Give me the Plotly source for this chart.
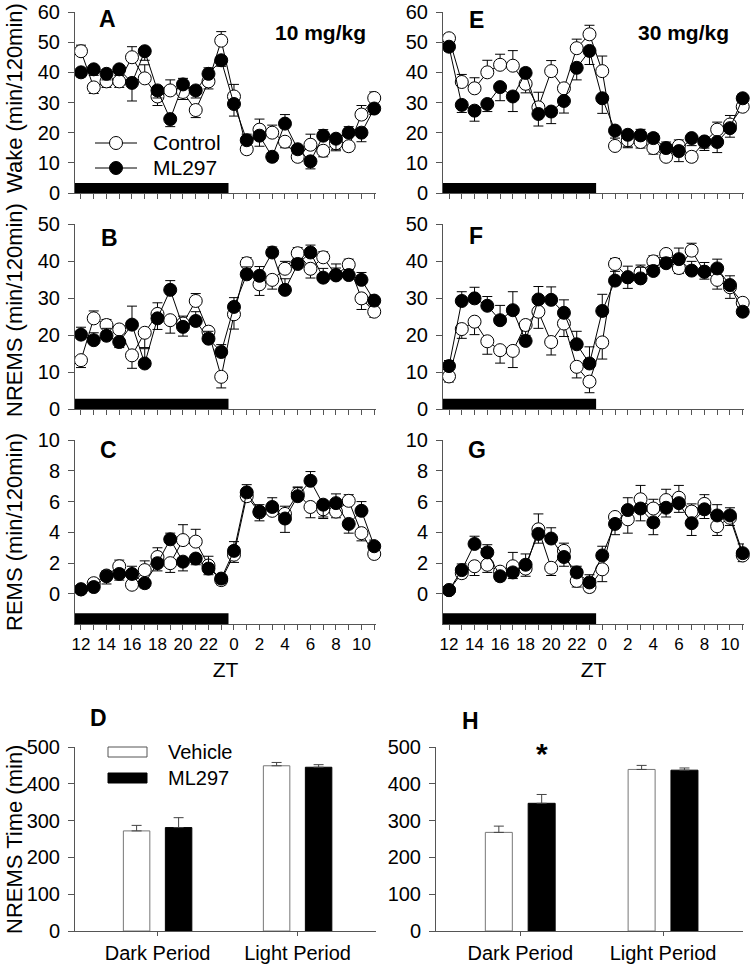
import plotly.graph_objects as go

# ---------------- data ----------------
zt_hours = [12, 13, 14, 15, 16, 17, 18, 19, 20, 21, 22, 23, 0, 1, 2, 3, 4, 5, 6, 7, 8, 9, 10, 11]
tick_text = [str(h) if h % 2 == 0 else "" for h in zt_hours]

# 10 mg/kg ---- Wake
wake10_ctrl = [47, 35, 37, 37, 45, 38, 32, 34, 33.5, 27.5, 37, 50.5, 32, 14.5, 21, 20, 17, 12, 16, 14, 16.5, 15.5, 26, 31.5]
wake10_ctrl_err = [2, -2, -2, -2, 3.5, 4.5, -3, 3.5, -2.5, -2.5, -2.5, 3, 4, -1.5, 3.5, 2.5, -2, -1.5, 3.5, -2, -2, -1.5, 3, 2]
wake10_ml = [40, 41, 39.5, 41, 36.5, 47, 34, 24.5, 36, 34, 39.5, 44, 29.5, 17.5, 19, 12, 23, 14.5, 10.5, 19, 18, 20, 20, 28]
wake10_ml_err = [-1.5, -2, -2, -2, -6, -3, -2.5, -2.5, 2, -2.5, 2, -2, -4, 2, -3.5, -1.5, 3, -1.5, -2.5, 2, -4, 2, -3, -2]
# 10 mg/kg ---- NREMS
nrem10_ctrl = [13.2, 24.5, 22.7, 21.5, 14.5, 20.6, 25.7, 24, 23.1, 29.2, 20.9, 8.7, 25.6, 39.4, 33.7, 34.9, 37.9, 42.1, 37.9, 41, 36.1, 39, 29.9, 26.3]
nrem10_ctrl_err = [-2, 2, 1.5, 1, -3.5, -4, 3, -3.5, 2, 2, -2, -3, -4, 1.5, -3, -2.5, 2, 1.5, -2.5, 1.5, 2, 1.5, -3, -1.5]
nrem10_ml = [20.1, 18.6, 19.8, 18.1, 22.8, 12.3, 24.5, 32.2, 22.2, 23.8, 19, 15.4, 27.6, 36.4, 36, 42.3, 32.2, 39.2, 42.3, 35.5, 36.2, 36.2, 34.9, 29.3]
nrem10_ml_err = [2, 2, 2, -1.5, 5, 4, -3, 2.5, -2.5, 2.5, 2, 2, 2.5, 2, 2.5, 1.5, 3, 1.5, 2, 2.5, 3, 1.5, 2, 1.5]
# 10 mg/kg ---- REMS
rem10_ctrl = [0.3, 0.7, 1.2, 1.8, 0.6, 1.55, 2.4, 2.0, 3.5, 3.4, 1.85, 0.9, 2.55, 6.35, 5.3, 5.4, 5.2, 6.5, 5.65, 5.5, 5.35, 6.05, 3.95, 2.6]
rem10_ctrl_err = [0.2, 0.3, 0.3, 0.4, -0.3, 0.6, 0.6, -0.6, 1.0, 0.8, -0.6, -0.3, -0.5, -0.3, 0.5, 0.5, 0.5, 0.4, -0.7, -0.6, -0.4, 0.4, -0.5, -0.3]
rem10_ml = [0.3, 0.45, 1.15, 1.3, 1.3, 0.7, 2.0, 3.55, 2.1, 2.3, 1.65, 1.0, 2.8, 6.6, 5.35, 5.65, 4.9, 6.35, 7.35, 5.8, 5.9, 4.55, 5.4, 3.1]
rem10_ml_err = [0.2, 0.3, -0.5, -0.4, 0.5, -0.3, -0.5, 0.4, -0.6, -0.4, 0.8, -0.3, 0.6, 0.5, -0.6, 0.6, -0.9, 0.6, 0.6, -0.8, 0.6, -0.6, 0.6, 0.4]

# 30 mg/kg ---- Wake
wake30_ctrl = [51.3, 36.8, 34.7, 40, 42.5, 42.2, 36.2, 28.4, 40.4, 34.7, 48, 52.6, 40.4, 15.6, 17.5, 16.9, 14.9, 12, 15.6, 12, 16.9, 21, 22.7, 28.6]
wake30_ctrl_err = [1.5, 2.5, 3.5, 4, 3.5, 5, -3, 5, 3.5, -4, 3, 3, 5, -1.5, -2.5, -2, -2, -1.5, 2, -1.5, -2, 2.5, 3, -1.5]
wake30_ml = [48.5, 29.2, 27.3, 29.5, 35.1, 32, 39.8, 26.2, 27, 30.5, 41.5, 47.1, 31.4, 20.7, 19.3, 19.1, 18.2, 14.9, 13.9, 18.2, 17.1, 16.9, 21.5, 31.4]
wake30_ml_err = [-1.5, -2.5, -3.5, -2.5, -4.5, -5, 1.5, -4, -4, -4, -4, -4.5, -5, -2.5, -4, 2, 1.5, 2, -3.5, -2.5, -3, -3.5, -3, 1.5]
# 30 mg/kg ---- NREMS
nrem30_ctrl = [8.8, 21.6, 23.6, 18.3, 15.9, 15.7, 22.7, 26.3, 18.1, 23.1, 11.4, 7.4, 18, 39.2, 35.6, 36.9, 39.9, 41.9, 38.1, 42.8, 37.1, 34.9, 32.9, 28.7]
nrem30_ctrl_err = [-1.5, -2.5, -3.5, -3.5, -3.5, -4.5, -4.5, -4.5, -3.5, -3.5, -3, -3, -4.5, 1.5, -3, 2, 1.5, 1, -1.5, 2, -2, -2.5, -3, 1]
nrem30_ml = [11.6, 29.2, 29.9, 27.9, 24, 26.7, 18.4, 29.6, 29.5, 26, 17.5, 12.3, 26.5, 34.7, 35.6, 35.3, 37.3, 39.4, 40.5, 37.4, 37.1, 38, 33.5, 26.3]
nrem30_ml_err = [1.5, 2.5, 3, 2.5, 4, 5, 1.5, 3.5, 3.5, 3.5, 3.5, 4.5, 4.5, 2.5, 3, 3, 1.5, 1.5, 3, 2.5, 2.5, 2.5, 2.5, -1]
# 30 mg/kg ---- REMS
rem30_ctrl = [0.25, 1.35, 1.8, 1.9, 1.45, 1.8, 1.65, 4.2, 1.7, 2.8, 0.85, 0.45, 1.6, 5.0, 4.85, 6.15, 5.55, 6.1, 6.25, 5.35, 5.85, 4.4, 4.95, 2.5]
rem30_ctrl_err = [0.15, -0.3, -0.6, -0.5, -0.4, 0.9, -0.5, 1.0, -0.5, 0.5, -0.4, -0.3, -0.8, -0.4, -0.9, 0.9, 0.6, 0.7, 0.8, 0.5, 0.6, -0.6, -0.5, -0.4]
rem30_ml = [0.25, 1.55, 3.25, 2.7, 1.15, 1.4, 1.9, 3.9, 3.6, 2.4, 1.4, 0.75, 2.5, 4.55, 5.45, 5.55, 4.65, 5.6, 5.9, 4.6, 5.5, 5.1, 5.1, 2.65]
rem30_ml_err = [0.15, 0.4, 0.5, 0.5, -0.3, -0.4, 0.7, -0.6, 0.7, -0.6, 0.4, 0.5, 0.6, -0.7, 0.8, -0.8, -0.8, -0.6, -0.6, -0.8, -0.6, 0.7, 0.5, 0.6]

# Bar panels (NREMS total time, min)
periods = ["Dark Period", "Light Period"]
d_vehicle = [272, 449]
d_vehicle_err = [15, 9]
d_ml297 = [281, 445]
d_ml297_err = [27, 7]
h_vehicle = [268, 439]
h_vehicle_err = [17, 11]
h_ml297 = [347, 437]
h_ml297_err = [24, 6]

# ---------------- figure ----------------
W, H = 752, 968
FONT = "Liberation Sans, Arial, sans-serif"
AXC = "#555555"

def px(x):
    return x / W

def py(y):
    return 1 - y / H

fig = go.Figure()
idx = list(range(len(zt_hours)))

def err(e):
    return dict(type="data", symmetric=False,
                array=[max(v, 0) for v in e], arrayminus=[max(-v, 0) for v in e],
                color="black", thickness=1, width=5)

def add_pair(n, ctrl, ctrl_e, ml, ml_e):
    xa, ya = ("x", "y") if n == 1 else (f"x{n}", f"y{n}")
    fig.add_trace(go.Scatter(x=idx, y=ctrl, error_y=err(ctrl_e), mode="lines+markers",
                             name="Control", showlegend=False, xaxis=xa, yaxis=ya, cliponaxis=False,
                             line=dict(color="black", width=1),
                             marker=dict(symbol="circle", size=13, color="white",
                                         line=dict(color="black", width=1))))
    fig.add_trace(go.Scatter(x=idx, y=ml, error_y=err(ml_e), mode="lines+markers",
                             name="ML297", showlegend=False, xaxis=xa, yaxis=ya, cliponaxis=False,
                             line=dict(color="black", width=1),
                             marker=dict(symbol="circle", size=13, color="black",
                                         line=dict(color="black", width=1))))

add_pair(1, wake10_ctrl, wake10_ctrl_err, wake10_ml, wake10_ml_err)
add_pair(2, nrem10_ctrl, nrem10_ctrl_err, nrem10_ml, nrem10_ml_err)
add_pair(3, rem10_ctrl, rem10_ctrl_err, rem10_ml, rem10_ml_err)
add_pair(4, wake30_ctrl, wake30_ctrl_err, wake30_ml, wake30_ml_err)
add_pair(5, nrem30_ctrl, nrem30_ctrl_err, nrem30_ml, nrem30_ml_err)
add_pair(6, rem30_ctrl, rem30_ctrl_err, rem30_ml, rem30_ml_err)

def bar_err(e):
    return dict(type="data", symmetric=False, array=e, arrayminus=[0] * len(e),
                color="#444444", thickness=1, width=5)

pos = list(range(len(periods)))
for n, veh, veh_e, ml, ml_e in [(7, d_vehicle, d_vehicle_err, d_ml297, d_ml297_err),
                                (8, h_vehicle, h_vehicle_err, h_ml297, h_ml297_err)]:
    fig.add_trace(go.Bar(x=pos, y=veh, error_y=bar_err(veh_e), name="Vehicle", showlegend=False,
                         xaxis=f"x{n}", yaxis=f"y{n}",
                         marker=dict(color="white", line=dict(color="#777777", width=1))))
    fig.add_trace(go.Bar(x=pos, y=ml, error_y=bar_err(ml_e), name="ML297", showlegend=False,
                         xaxis=f"x{n}", yaxis=f"y{n}",
                         marker=dict(color="black", line=dict(color="black", width=1))))

tickfont = dict(family=FONT, size=20, color="black")
base_axis = dict(showline=True, linecolor=AXC, linewidth=1, ticks="outside", tickcolor=AXC,
                 showgrid=False, zeroline=False, tickfont=tickfont, automargin=False,
                 ticklabeloverflow="allow")

left_x = [px(75), px(376)]
right_x = [px(443), px(744)]
rowA = [py(193), py(12)]
rowB = [py(409), py(224)]
rowC = [py(624), py(440)]
rowD = [py(931), py(747)]

layout = {}
line_panels = [
    (1, left_x, rowA, [0, 60], 10, False, [-0.47, 23.14], 11.57),
    (2, left_x, rowB, [0, 50], 10, False, [-0.47, 23.14], 11.57),
    (3, left_x, rowC, [-1.95, 10], 2, True, [-0.47, 23.14], 11.57),
    (4, right_x, rowA, [0, 60], 10, False, [-0.47, 23.1], 11.52),
    (5, right_x, rowB, [0, 50], 10, False, [-0.47, 23.1], 11.52),
    (6, right_x, rowC, [-1.95, 10], 2, True, [-0.47, 23.1], 11.52),
]
for n, xd, yd, yr, dt, labels, xr, dark_end in line_panels:
    xk = "xaxis" if n == 1 else f"xaxis{n}"
    yk = "yaxis" if n == 1 else f"yaxis{n}"
    ax_id = "x" if n == 1 else f"x{n}"
    ay_id = "y" if n == 1 else f"y{n}"
    xa = dict(base_axis, domain=xd, anchor=ay_id, range=xr, tickvals=idx, ticktext=tick_text,
              showticklabels=labels, ticklen=5, tickfont=dict(family=FONT, size=17, color="black"))
    if labels:
        xa["title"] = dict(text="ZT", font=dict(family=FONT, size=21, color="black"), standoff=8)
    layout[xk] = xa
    layout[yk] = dict(base_axis, domain=yd, anchor=ax_id, range=yr, dtick=dt, tick0=0, ticklen=6,
                      ticklabelstandoff=4)
    # dark-period bar
    ybar = (0, yr[1] * 0.055) if yr[0] == 0 else (yr[0], -1.25)
    fig.add_shape(type="rect", xref=ax_id, yref=ay_id, x0=xr[0], x1=dark_end,
                  y0=ybar[0], y1=ybar[1], fillcolor="black", line=dict(width=0), layer="above")

for n, xd in [(7, [px(75), px(376)]), (8, [px(436), px(743)])]:
    layout[f"xaxis{n}"] = dict(base_axis, domain=xd, anchor=f"y{n}", range=[-0.59, 1.56],
                               tickvals=pos, ticktext=periods, ticklen=4)
    layout[f"yaxis{n}"] = dict(base_axis, domain=rowD, anchor=f"x{n}", range=[0, 500], dtick=100,
                               ticklen=6, ticklabelstandoff=4)

fig.update_layout(template="none")
fig.update_layout(**layout)
fig.update_layout(width=W, height=H, margin=dict(l=0, r=0, t=0, b=0, autoexpand=False),
                  paper_bgcolor="white", plot_bgcolor="white", showlegend=False,
                  barmode="group", bargap=0.4, bargroupgap=0.37,
                  font=dict(family=FONT, color="black"))

# annotations: panel letters, doses, y titles
ann = []
def letter(t, x, y):
    ann.append(dict(text=f"<b>{t}</b>", x=px(x), y=py(y), xref="paper", yref="paper",
                    showarrow=False, font=dict(family=FONT, size=23, color="black"),
                    xanchor="center", yanchor="middle"))
for t, x, y in [("A", 107, 19), ("B", 109, 238), ("C", 108, 450), ("E", 476, 20),
                ("F", 476, 236), ("G", 477, 450), ("D", 99, 718), ("H", 470, 721)]:
    letter(t, x, y)
for t, x, y in [("10 mg/kg", 320, 33), ("30 mg/kg", 683, 33)]:
    ann.append(dict(text=f"<b>{t}</b>", x=px(x), y=py(y), xref="paper", yref="paper",
                    showarrow=False, font=dict(family=FONT, size=21, color="black"),
                    xanchor="center", yanchor="middle"))
for t, y in [("Wake (min/120min)", 98), ("NREMS (min/120min)", 310),
             ("REMS (min/120min)", 532), ("NREMS Time (min)", 840)]:
    ann.append(dict(text=t, x=px(14), y=py(y), xref="paper", yref="paper", showarrow=False,
                    textangle=-90, font=dict(family=FONT, size=22, color="black"),
                    xanchor="center", yanchor="middle"))
# significance star above ML297 dark bar (panel H)
ann.append(dict(text="<b>*</b>", x=0.15, y=h_ml297[0] + h_ml297_err[0] + 110, xref="x8", yref="y8",
                showarrow=False, font=dict(family=FONT, size=30, color="black"), yanchor="middle"))

# line legend (panel A)
for label, fill, y in [("Control", "white", 143), ("ML297", "black", 168)]:
    fig.add_shape(type="line", xref="paper", yref="paper", x0=px(95), x1=px(137),
                  y0=py(y), y1=py(y), line=dict(color="black", width=1))
    fig.add_shape(type="circle", xref="paper", yref="paper", xsizemode="pixel", ysizemode="pixel",
                  xanchor=px(116), yanchor=py(y), x0=-6.5, x1=6.5, y0=-6.5, y1=6.5,
                  fillcolor=fill, line=dict(color="black", width=1))
    ann.append(dict(text=label, x=px(151), y=py(y), xref="paper", yref="paper", showarrow=False,
                    font=dict(family=FONT, size=21, color="black"), xanchor="left", yanchor="middle"))

# bar legend (panel D)
for label, fill, y in [("Vehicle", "white", 752), ("ML297", "black", 778)]:
    fig.add_shape(type="rect", xref="paper", yref="paper", x0=px(108), x1=px(147),
                  y0=py(y + 5), y1=py(y - 5), fillcolor=fill,
                  line=dict(color="#555555" if fill == "white" else "black", width=1))
    ann.append(dict(text=label, x=px(166), y=py(y), xref="paper", yref="paper", showarrow=False,
                    font=dict(family=FONT, size=20, color="black"), xanchor="left", yanchor="middle"))
fig.update_layout(annotations=ann)

fig.write_html("out.html", config={"displayModeBar": False},
               post_script="document.body.style.margin='0';document.body.style.overflow='hidden';")
